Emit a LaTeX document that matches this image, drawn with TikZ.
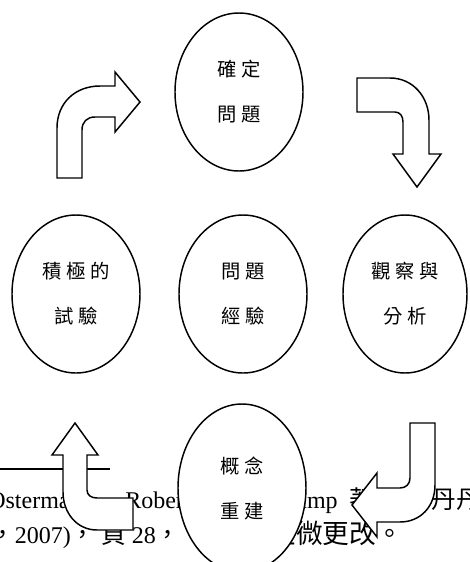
\documentclass[tikz,border=0pt]{standalone}
\usepackage{fontspec}
\usepackage{xcolor}
\setmainfont{Liberation Serif}
\newfontfamily\cjk{Noto Sans CJK TC}
\newfontfamily\ovalcjk[LetterSpace=24]{Noto Sans CJK TC}
\newcommand{\zh}[1]{{\cjk\fontsize{18.5}{20}\selectfont #1}}
\newcommand{\zhbig}[1]{{\cjk\fontsize{20}{20}\selectfont #1}}
\usetikzlibrary{shapes.geometric}

\begin{document}
\begin{tikzpicture}[x=0.75pt,y=-0.75pt,
        oval/.style={draw,fill=white,ellipse,line width=1.1pt,minimum width=96pt,minimum height=118.5pt,inner sep=0pt,align=center,font=\ovalcjk\fontsize{14.5}{33.75}\selectfont},
        bentarrow/.style={draw,fill=white,line width=1.1pt,line join=miter},
        note/.style={inner sep=0pt,anchor=base west,font=\fontsize{18}{20}\selectfont}]
            \clip (0,0) rectangle (469,562);
            \filldraw[white] (0,0) rectangle (469,562);
            \begin{scope}
                \draw[line width=0.8pt] (0,469) -- (110,469);
                \node[note] (srcA) at (-12,508) {Osterman};
                \node[note] (srcB) at (125,508) {Robert};
                \node[note,anchor=base east] (srcC) at (338,508) {kamp};
                \node[note] (srcD) at (349,508) {\zh{著}};
                \node[note] (srcE) at (382,508) {\zh{（鄭丹丹譯}};
                \node[note] (srcF) at (-10,543) {\zh{，}2007)\zh{，}};
                \node[note] (srcG) at (101,543) {\zh{頁} 28\zh{，}};
                \node[note,anchor=base east] (srcH) at (403,543) {\zhbig{並作些微更改。}};
            \end{scope}
            \begin{scope}
                \node[oval] (problem) at (239,92) {確定\\問題};
                \node[oval] (trial) at (76,294) {積極的\\試驗};
                \node[oval] (experience) at (243,294) {問題\\經驗};
                \node[oval,minimum width=93pt] (analysis) at (405,294) {觀察與\\分析};
                \node[oval,minimum height=126pt] (rebuild) at (242,488) {概念\\重建};
            \end{scope}
            \begin{scope}
                \draw[bentarrow] (57,178) -- (57,128) .. controls (57,103) and (75,86) .. (100,86) -- (115,86) -- (115,72) -- (140,102) -- (115,132) -- (115,117) -- (95,117) .. controls (87,117) and (82,122) .. (82,130) -- (82,178) -- cycle;
                \draw[bentarrow] (357,78) -- (390,78) .. controls (413,78) and (429,97) .. (429,120) -- (429,154) -- (441,154) -- (417,187) -- (393,154) -- (403,154) -- (403,122) .. controls (403,116) and (400,112) .. (395,112) -- (357,112) -- cycle;
                \draw[bentarrow] (410,423) -- (435,423) -- (435,485) .. controls (435,507) and (420,522) .. (400,522) -- (377,522) -- (377,537) -- (352,505) -- (377,473) -- (377,488) -- (400,488) .. controls (406,488) and (410,484) .. (410,478) -- cycle;
                \draw[bentarrow] (75,423) -- (98,455) -- (87,455) -- (87,490) .. controls (87,495) and (91,498) .. (97,498) -- (133,498) -- (133,530) -- (97,530) .. controls (77,530) and (63,513) .. (63,492) -- (63,455) -- (52,455) -- cycle;
            \end{scope}
        \end{tikzpicture}
\end{document}
